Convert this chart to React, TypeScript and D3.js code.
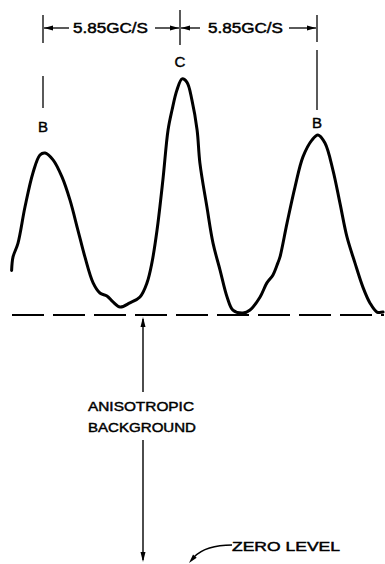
import React from 'react';
import * as d3 from 'd3';

// trace: frequency offset (GC/s) vs intensity (background = 100, zero = 0)
const freq = [-7.19, -7.13, -6.92, -6.62, -6.28, -5.98, -5.76, -5.42, -5.04, -4.70, -4.36, -4.06, -3.71, -3.42, -3.12, -2.86, -2.56, -2.14, -1.71, -1.41, -1.20, -0.98, -0.73, -0.51, -0.34, -0.13, 0.09, 0.30, 0.51, 0.73, 0.85, 1.15, 1.41, 1.71, 2.01, 2.26, 2.69, 2.99, 3.42, 3.71, 3.97, 4.18, 4.27, 4.57, 4.91, 5.25, 5.64, 5.89, 6.19, 6.53, 6.83, 7.13, 7.47, 7.81, 8.11, 8.41, 8.67];
const intensity = [118, 123.5, 129, 143.7, 157.5, 164.8, 165.6, 162.8, 155.9, 146.6, 134.4, 123.5, 113, 108.9, 107.7, 105.3, 103.2, 104.9, 107.3, 113, 121.1, 134.4, 154.7, 174.9, 183, 191.1, 195.6, 194.2, 187, 174.9, 161.5, 143.7, 129.1, 118.2, 107.3, 102, 100.8, 102, 107.3, 113, 116.2, 121.1, 123.5, 137.2, 151.8, 164, 170.9, 172.9, 169.6, 158.7, 145.3, 131.6, 121.1, 111.3, 104.9, 101.2, 101.2];

const peakFreqs = [-5.85, 0, 5.85];
const peakLabels = ['B', 'C', 'B'];
const spacingLabel = '5.85GC/S';
const background = 100;
const zeroLevel = 0;

const W = 385, H = 564;

const x = d3.scaleLinear().domain([-5.85, 5.85]).range([43, 317]);
const y = d3.scaleLinear().domain([zeroLevel, background]).range([562, 315]);

const pts: [number, number][] = freq.map((f, i) => [f, intensity[i]]);
const line = d3.line<[number, number]>()
    .x(d => x(d[0]))
    .y(d => y(d[1]))
    .curve(d3.curveCatmullRom.alpha(0.5));

// filled arrowhead, tip at (tx,ty), pointing along angle a (radians)
const arrow = (tx: number, ty: number, a: number, len = 9, half = 2.6) => {
    const bx = tx - Math.cos(a) * len, by = ty - Math.sin(a) * len;
    const px = -Math.sin(a) * half, py = Math.cos(a) * half;
    return `M${tx},${ty}L${bx + px},${by + py}L${bx - px},${by - py}Z`;
};

const font = "'Liberation Sans', Arial, sans-serif";
// medium-weight lettering: regular glyphs with a thin outline
const ink = { fill: '#000', stroke: '#000', strokeWidth: 0.45 };

export default function App() {
    const [xl, xc, xr] = peakFreqs.map(f => x(f));
    const dimY = 28;
    const bgX = 143;
    const yBg = y(background), yZero = y(zeroLevel);

    return (
        <svg width={W} height={H} style={{ position: 'absolute', left: 0, top: 0, background: '#fff' }}>
            <g stroke="#000" strokeWidth={1.3} fill="none">
                {/* dimension verticals */}
                <line x1={xl} y1={15} x2={xl} y2={43} />
                <line x1={xl} y1={76} x2={xl} y2={108} />
                <line x1={xc} y1={10} x2={xc} y2={45} />
                <line x1={xr} y1={15} x2={xr} y2={42} />
                <line x1={xr} y1={50} x2={xr} y2={110} />
                {/* dimension lines */}
                <line x1={xl + 1} y1={dimY} x2={xl + 26} y2={dimY} />
                <line x1={xl + 112} y1={dimY} x2={xc - 1} y2={dimY} />
                <line x1={xc + 1} y1={dimY} x2={xc + 20} y2={dimY} />
                <line x1={xc + 109} y1={dimY} x2={xr - 1} y2={dimY} />
            </g>
            <g fill="#000">
                <path d={arrow(xl + 1, dimY, Math.PI)} />
                <path d={arrow(xc - 1, dimY, 0)} />
                <path d={arrow(xc + 1, dimY, Math.PI)} />
                <path d={arrow(xr - 1, dimY, 0)} />
            </g>
            <g fontFamily={font} fontSize={14} {...ink}>
                <text x={(xl + xc) / 2 - 1} y={33} textAnchor="middle" textLength={75} lengthAdjust="spacingAndGlyphs">{spacingLabel}</text>
                <text x={(xc + xr) / 2 - 3} y={33} textAnchor="middle" textLength={75} lengthAdjust="spacingAndGlyphs">{spacingLabel}</text>
                {peakFreqs.map((f, i) => (
                    <text key={i} x={x(f)} y={i === 0 ? 132 : i === 1 ? 67 : 128} textAnchor="middle" fontSize={15}>{peakLabels[i]}</text>
                ))}
            </g>

            {/* spectrum trace */}
            <path d={line(pts) || ''} fill="none" stroke="#000" strokeWidth={3} strokeLinejoin="round" strokeLinecap="round" />

            {/* anisotropic background level */}
            <line x1={12} y1={yBg} x2={384} y2={yBg} stroke="#000" strokeWidth={1.8} strokeDasharray="32,9" />

            {/* background to zero arrow */}
            <g stroke="#000" strokeWidth={1.4}>
                <line x1={bgX} y1={yBg + 4} x2={bgX} y2={392} />
                <line x1={bgX} y1={440} x2={bgX} y2={yZero - 2} />
            </g>
            <g fill="#000">
                <path d={arrow(bgX, yBg + 2, -Math.PI / 2, 10, 2.5)} />
                <path d={arrow(bgX, yZero, Math.PI / 2, 10, 2.5)} />
            </g>
            <g fontFamily={font} fontSize={13} {...ink} textAnchor="middle">
                <text x={141} y={411} textLength={106} lengthAdjust="spacingAndGlyphs">ANISOTROPIC</text>
                <text x={142} y={432} textLength={108} lengthAdjust="spacingAndGlyphs">BACKGROUND</text>
            </g>

            {/* zero level leader */}
            <path d="M232,545 C214,545 201,550 194,557" fill="none" stroke="#000" strokeWidth={1.4} />
            <path d={arrow(189, 563, Math.atan2(7, -6), 9, 2.4)} fill="#000" />
            <text x={232} y={551} fontFamily={font} fontSize={13} {...ink} textLength={108} lengthAdjust="spacingAndGlyphs">ZERO LEVEL</text>
        </svg>
    );
}
